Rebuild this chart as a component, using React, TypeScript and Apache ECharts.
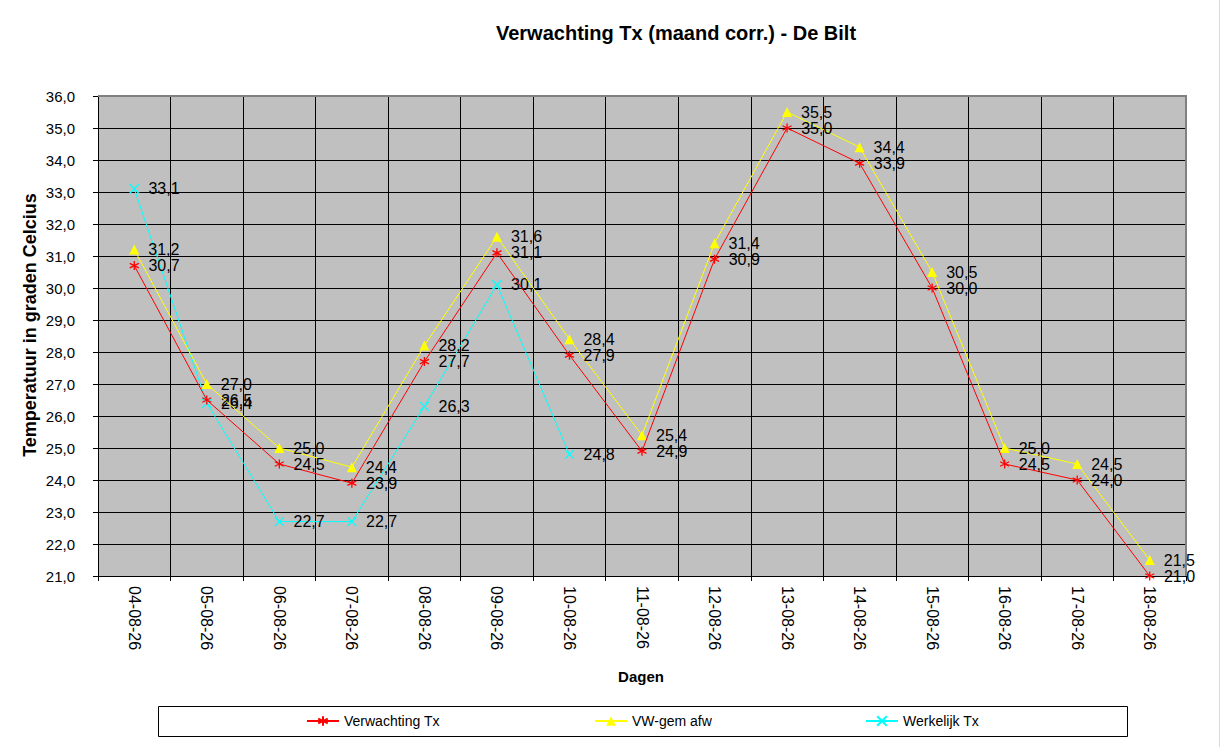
import React, { useEffect, useRef } from "react";
import * as echarts from "echarts";

const categories = [
  "04-08-26", "05-08-26", "06-08-26", "07-08-26", "08-08-26", "09-08-26", "10-08-26",
  "11-08-26", "12-08-26", "13-08-26", "14-08-26", "15-08-26", "16-08-26", "17-08-26", "18-08-26",
];
const verwachtingTx = [30.7, 26.5, 24.5, 23.9, 27.7, 31.1, 27.9, 24.9, 30.9, 35.0, 33.9, 30.0, 24.5, 24.0, 21.0];
const vwGemAfw = [31.2, 27.0, 25.0, 24.4, 28.2, 31.6, 28.4, 25.4, 31.4, 35.5, 34.4, 30.5, 25.0, 24.5, 21.5];
const werkelijkTx: (number | null)[] = [33.1, 26.4, 22.7, 22.7, 26.3, 30.1, 24.8, null, null, null, null, null, null, null, null];
const seriesNames = ["Verwachting Tx", "VW-gem afw", "Werkelijk Tx"];
const titleText = "Verwachting Tx (maand corr.) - De Bilt";
const yTitle = "Temperatuur in graden Celcius";
const xTitle = "Dagen";
const yMin = 21;
const yMax = 36;

const FONT = 'Arial, "Liberation Sans", sans-serif';
const fmt = (v: number) => v.toFixed(1).replace(".", ",");

const ASTERISK = "path://M5,0L5,10M0.7,2.5L9.3,7.5M0.7,7.5L9.3,2.5";
const XMARK = "path://M0,0L10,10M10,0L0,10";

// layout
const GL = 98, GT = 96, GR = 1186, GB = 576;

export default function App() {
  const ref = useRef<HTMLDivElement>(null);
  useEffect(() => {
    if (!ref.current) return;
    const chart = echarts.init(ref.current, null, { renderer: "svg" });
    const label = {
      show: true,
      position: "right" as const,
      distance: 9,
      color: "#000",
      fontSize: 16,
      fontFamily: FONT,
      formatter: (p: any) => (p.value == null ? "" : fmt(Number(p.value))),
    };
    chart.setOption({
      animation: false,
      backgroundColor: "#fff",
      textStyle: { fontFamily: FONT },
      grid: {
        left: GL,
        top: GT,
        right: 1221 - GR,
        bottom: 747 - GB,
        show: true,
        backgroundColor: "#C0C0C0",
        borderWidth: 0,
      },
      xAxis: {
        type: "category",
        data: categories,
        boundaryGap: true,
        axisLine: { show: true, lineStyle: { color: "#000", width: 1 } },
        axisTick: { show: true, length: 5, lineStyle: { color: "#000" } },
        splitLine: { show: true, lineStyle: { color: "#000", width: 1 } },
        axisLabel: { rotate: -90, fontSize: 16, color: "#000", margin: 10, fontFamily: FONT },
      },
      yAxis: {
        type: "value",
        min: yMin,
        max: yMax,
        interval: 1,
        axisLine: { show: true, lineStyle: { color: "#000", width: 1 } },
        axisTick: { show: true, length: 5, lineStyle: { color: "#000" } },
        splitLine: { show: true, lineStyle: { color: "#000", width: 1 } },
        axisLabel: { formatter: (v: number) => fmt(v), fontSize: 15, color: "#000", margin: 23, fontFamily: FONT },
      },
      legend: [0, 1, 2].map((i) => ({
        data: [seriesNames[i]],
        left: [306, 594, 865][i],
        top: 714,
        padding: 0,
        itemWidth: 32,
        itemHeight: 12,
        textStyle: { fontSize: 14, color: "#000", fontFamily: FONT },
      })),
      graphic: [
        {
          type: "text",
          x: 676,
          y: 33,
          style: {
            text: titleText,
            fontSize: 20,
            fontWeight: "bold",
            fill: "#000",
            fontFamily: FONT,
            align: "center",
            verticalAlign: "middle",
          },
        },
        {
          type: "text",
          x: 30,
          y: 325,
          rotation: Math.PI / 2,
          style: {
            text: yTitle,
            fontSize: 18,
            fontWeight: "bold",
            fill: "#000",
            fontFamily: FONT,
            align: "center",
            verticalAlign: "middle",
          },
        },
        {
          type: "text",
          x: 641,
          y: 676,
          style: {
            text: xTitle,
            fontSize: 15,
            fontWeight: "bold",
            fill: "#000",
            fontFamily: FONT,
            align: "center",
            verticalAlign: "middle",
          },
        },
        {
          type: "polyline",
          z: 100,
          shape: { points: [[GL, GT], [GR, GT], [GR, GB]] },
          style: { stroke: "#808080", lineWidth: 2, fill: null },
        },
        {
          type: "rect",
          shape: { x: 158.5, y: 706.5, width: 969, height: 30 },
          style: { fill: null, stroke: "#000", lineWidth: 1 },
        },
        {
          type: "line",
          shape: { x1: 1219.5, y1: 0, x2: 1219.5, y2: 747 },
          style: { stroke: "#d9d9d9", lineWidth: 1 },
        },
      ],
      series: [
        {
          name: seriesNames[0],
          type: "line",
          data: verwachtingTx,
          symbol: ASTERISK,
          symbolSize: 9,
          z: 4,
          lineStyle: { color: "#FF0000", width: 1 },
          itemStyle: { color: "#FF0000", borderColor: "#FF0000", borderWidth: 1.3 },
          label,
        },
        {
          name: seriesNames[1],
          type: "line",
          data: vwGemAfw,
          symbol: "triangle",
          symbolSize: 10,
          z: 3,
          lineStyle: { color: "#FFFF00", width: 1 },
          itemStyle: { color: "#FFFF00", borderColor: "#FFFF00", borderWidth: 0 },
          label,
        },
        {
          name: seriesNames[2],
          type: "line",
          data: werkelijkTx,
          symbol: XMARK,
          symbolSize: 9,
          connectNulls: false,
          z: 2,
          lineStyle: { color: "#00FFFF", width: 1 },
          itemStyle: { color: "#00FFFF", borderColor: "#00FFFF", borderWidth: 1.3 },
          label,
        },
      ],
    });
    return () => chart.dispose();
  }, []);
  return (
    <div
      ref={ref}
      style={{ position: "absolute", left: 0, top: 0, width: 1221, height: 747 }}
    />
  );
}
